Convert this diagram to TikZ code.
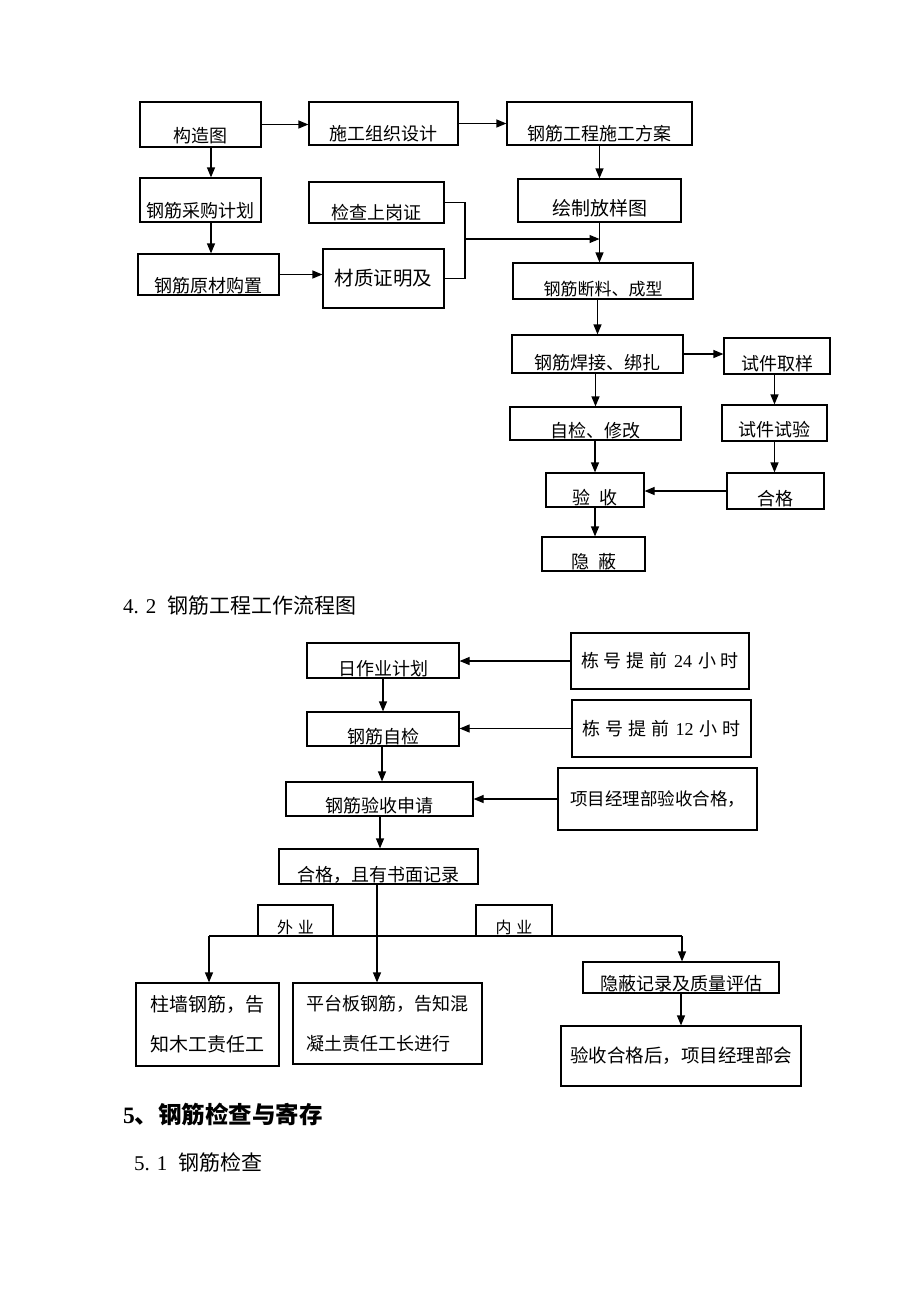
\documentclass[tikz,border=0pt]{standalone}
\usepackage{fontspec}
\setmainfont{Noto Sans CJK SC}
\newfontfamily\latinfont{Liberation Serif}
\usetikzlibrary{arrows.meta}
\newcommand\jg{\hspace{5pt}}
\tikzset{
  box/.style={draw, line width=1.2pt, inner sep=0pt, font=\fontsize{18}{22}\selectfont},
  lowtxt/.style={text height=#1, text depth=0pt},
  ln/.style={line width=1.2pt},
  arr/.style={line width=1.2pt, -{Triangle[length=10pt,width=8pt]}}
}
\begin{document}
\begin{tikzpicture}[x=1pt,y=-1pt]
\useasboundingbox (0,0) rectangle (920,1302);
% material flow
\node[box, minimum width=121pt, minimum height=45pt, lowtxt=35pt] (goutu) at (200.5,124.5) {构造图};
\node[box, minimum width=149pt, minimum height=43pt, lowtxt=33pt] (sgzz) at (383.5,123.5) {施工组织设计};
\node[box, minimum width=185pt, minimum height=43pt, lowtxt=33pt] (gjfa) at (599.5,123.5) {钢筋工程施工方案};
\node[box, minimum width=121pt, minimum height=44pt, lowtxt=34pt] (caigou) at (200.5,200) {钢筋采购计划};
\node[box, minimum width=135pt, minimum height=41pt, lowtxt=33pt] (sgz) at (376.5,202.5) {检查上岗证};
\node[box, minimum width=163pt, minimum height=43pt, lowtxt=29pt, font=\fontsize{19}{22}\selectfont] (fyt) at (599.5,200.5) {绘制放样图};
\node[box, minimum width=141pt, minimum height=41pt, lowtxt=35pt] (yuancai) at (208.5,274.5) {钢筋原材购置};
\node[box, minimum width=121pt, minimum height=59pt, font=\fontsize{19.5}{22}\selectfont] (czzm) at (383.5,278.5) {材质证明及};
\node[box, minimum width=180pt, minimum height=36pt, lowtxt=28pt, font=\fontsize{17}{20}\selectfont] (duanliao) at (603,281) {钢筋断料、成型};
\node[box, minimum width=171pt, minimum height=38pt, lowtxt=30pt] (hanjie) at (597.5,354) {钢筋焊接、绑扎};
\node[box, minimum width=106pt, minimum height=36pt, lowtxt=28pt] (quyang) at (777,356) {试件取样};
\node[box, minimum width=171pt, minimum height=33pt, lowtxt=27pt] (zijian) at (595.5,423.5) {自检、修改};
\node[box, minimum width=105pt, minimum height=36pt, lowtxt=26pt] (shiyan) at (774.5,423) {试件试验};
\node[box, minimum width=98pt, minimum height=34pt, lowtxt=28pt] (yanshou) at (595,490) {验\hspace{9pt}收};
\node[box, minimum width=97pt, minimum height=36pt, lowtxt=28pt] (hege) at (775.5,491) {合格};
\node[box, minimum width=103pt, minimum height=34pt, lowtxt=28pt] (yinbi) at (593.5,554) {隐\hspace{9pt}蔽};
\draw[arr] (goutu.east) -- (goutu.east -| sgzz.west);
\draw[arr] (sgzz.east) -- (gjfa.west);
\draw[arr] (goutu.south -| 211,0) -- (caigou.north -| 211,0);
\draw[arr] (caigou.south -| 211,0) -- (yuancai.north -| 211,0);
\draw[arr] (yuancai.east) -- (yuancai.east -| czzm.west);
\coordinate (hebing) at (465,239);
\draw[ln] (sgz.east) -| (hebing) |- (czzm.east);
\draw[arr] (hebing) -- (hebing -| fyt.south);
\draw[arr] (gjfa.south) -- (fyt.north);
\draw[arr] (fyt.south) -- (fyt.south |- duanliao.north);
\draw[arr] (hanjie.north |- duanliao.south) -- (hanjie.north);
\draw[arr] (hanjie.east) -- (hanjie.east -| quyang.west);
\draw[arr] (zijian.north |- hanjie.south) -- (zijian.north);
\draw[arr] (shiyan.north |- quyang.south) -- (shiyan.north);
\draw[arr] (yanshou.north |- zijian.south) -- (yanshou.north);
\draw[arr] (shiyan.south) -- (shiyan.south |- hege.north);
\draw[arr] (hege.west) -- (hege.west -| yanshou.east);
\draw[arr] (yanshou.south) -- (yanshou.south |- yinbi.north);
% caption
\node[anchor=west, inner sep=0pt, font=\fontsize{21}{24}\selectfont] (biaoti42) at (123,606) {{\latinfont 4. 2}\hspace{11pt}钢筋工程工作流程图};
% work flow
\node[box, minimum width=152pt, minimum height=35pt, lowtxt=29pt] (rzy) at (383,660.5) {日作业计划};
\node[box, minimum width=152pt, minimum height=34pt, lowtxt=28pt] (gjzj) at (383,729) {钢筋自检};
\node[box, minimum width=187pt, minimum height=34pt, lowtxt=26pt] (sqing) at (379.5,799) {钢筋验收申请};
\node[box, minimum width=199pt, minimum height=35pt, lowtxt=29pt] (jilu) at (378.5,866.5) {合格，且有书面记录};
\node[box, minimum width=178pt, minimum height=56pt, font=\fontsize{18}{20}\selectfont] (tq24) at (660,661) {栋\jg 号\jg 提\jg 前\hspace{6pt}{\latinfont 24}\hspace{6pt}小\jg 时};
\node[box, minimum width=179pt, minimum height=57pt, font=\fontsize{18}{20}\selectfont] (tq12) at (661.5,728.5) {栋\jg 号\jg 提\jg 前\hspace{6pt}{\latinfont 12}\hspace{6pt}小\jg 时};
\node[box, minimum width=199pt, minimum height=62pt, font=\fontsize{17.5}{20}\selectfont] (xmjl) at (657.5,799) {项目经理部验收合格，};
\node[box, minimum width=75pt, minimum height=31pt, lowtxt=25pt, font=\fontsize{16}{20}\selectfont] (waiye) at (295.5,920.5) {外\jg 业};
\node[box, minimum width=76pt, minimum height=31pt, lowtxt=25pt, font=\fontsize{16}{20}\selectfont] (neiye) at (514,920.5) {内\jg 业};
\node[box, minimum width=196pt, minimum height=31pt, lowtxt=25pt] (yinbipg) at (681,977.5) {隐蔽记录及质量评估};
\node[box, minimum width=143pt, minimum height=83pt, align=left, font=\fontsize{19}{40}\selectfont] (zhuqiang) at (207.5,1024.5) {柱墙钢筋，告\\知木工责任工};
\node[box, minimum width=189pt, minimum height=81pt, align=left, font=\fontsize{18}{40}\selectfont] (pingtai) at (387.5,1023.5) {平台板钢筋，告知混\\凝土责任工长进行};
\node[box, minimum width=240pt, minimum height=60pt, font=\fontsize{18.5}{22}\selectfont] (yshg) at (681,1056) {验收合格后，项目经理部会};
\draw[arr] (tq24.west) -- (tq24.west -| rzy.east);
\draw[arr] (tq12.west) -- (tq12.west -| gjzj.east);
\draw[arr] (xmjl.west) -- (xmjl.west -| sqing.east);
\draw[arr] (rzy.south) -- (gjzj.north);
\draw[arr] (gjzj.south -| 382,0) -- (sqing.north -| 382,0);
\draw[arr] (sqing.south -| 380,0) -- (jilu.north -| 380,0);
\draw[arr] (jilu.south -| 377,0) -- (pingtai.north -| 377,0);
\coordinate (zuo) at (209,936);
\coordinate (you) at (682,936);
\draw[ln] (zuo) -- (you);
\draw[arr] (zuo) -- (zuo |- zhuqiang.north);
\draw[arr] (you) -- (you |- yinbipg.north);
\draw[arr] (yinbipg.south) -- (yshg.north);
% section titles
\node[anchor=west, inner sep=0pt, font=\fontsize{23.5}{26}\selectfont\bfseries] (biaoti5) at (123,1114) {{\latinfont 5}、钢筋检查与寄存};
\node[anchor=west, inner sep=0pt, font=\fontsize{21}{24}\selectfont] (biaoti51) at (134,1162) {{\latinfont 5. 1}\hspace{11pt}钢筋检查};
\end{tikzpicture}
\end{document}
